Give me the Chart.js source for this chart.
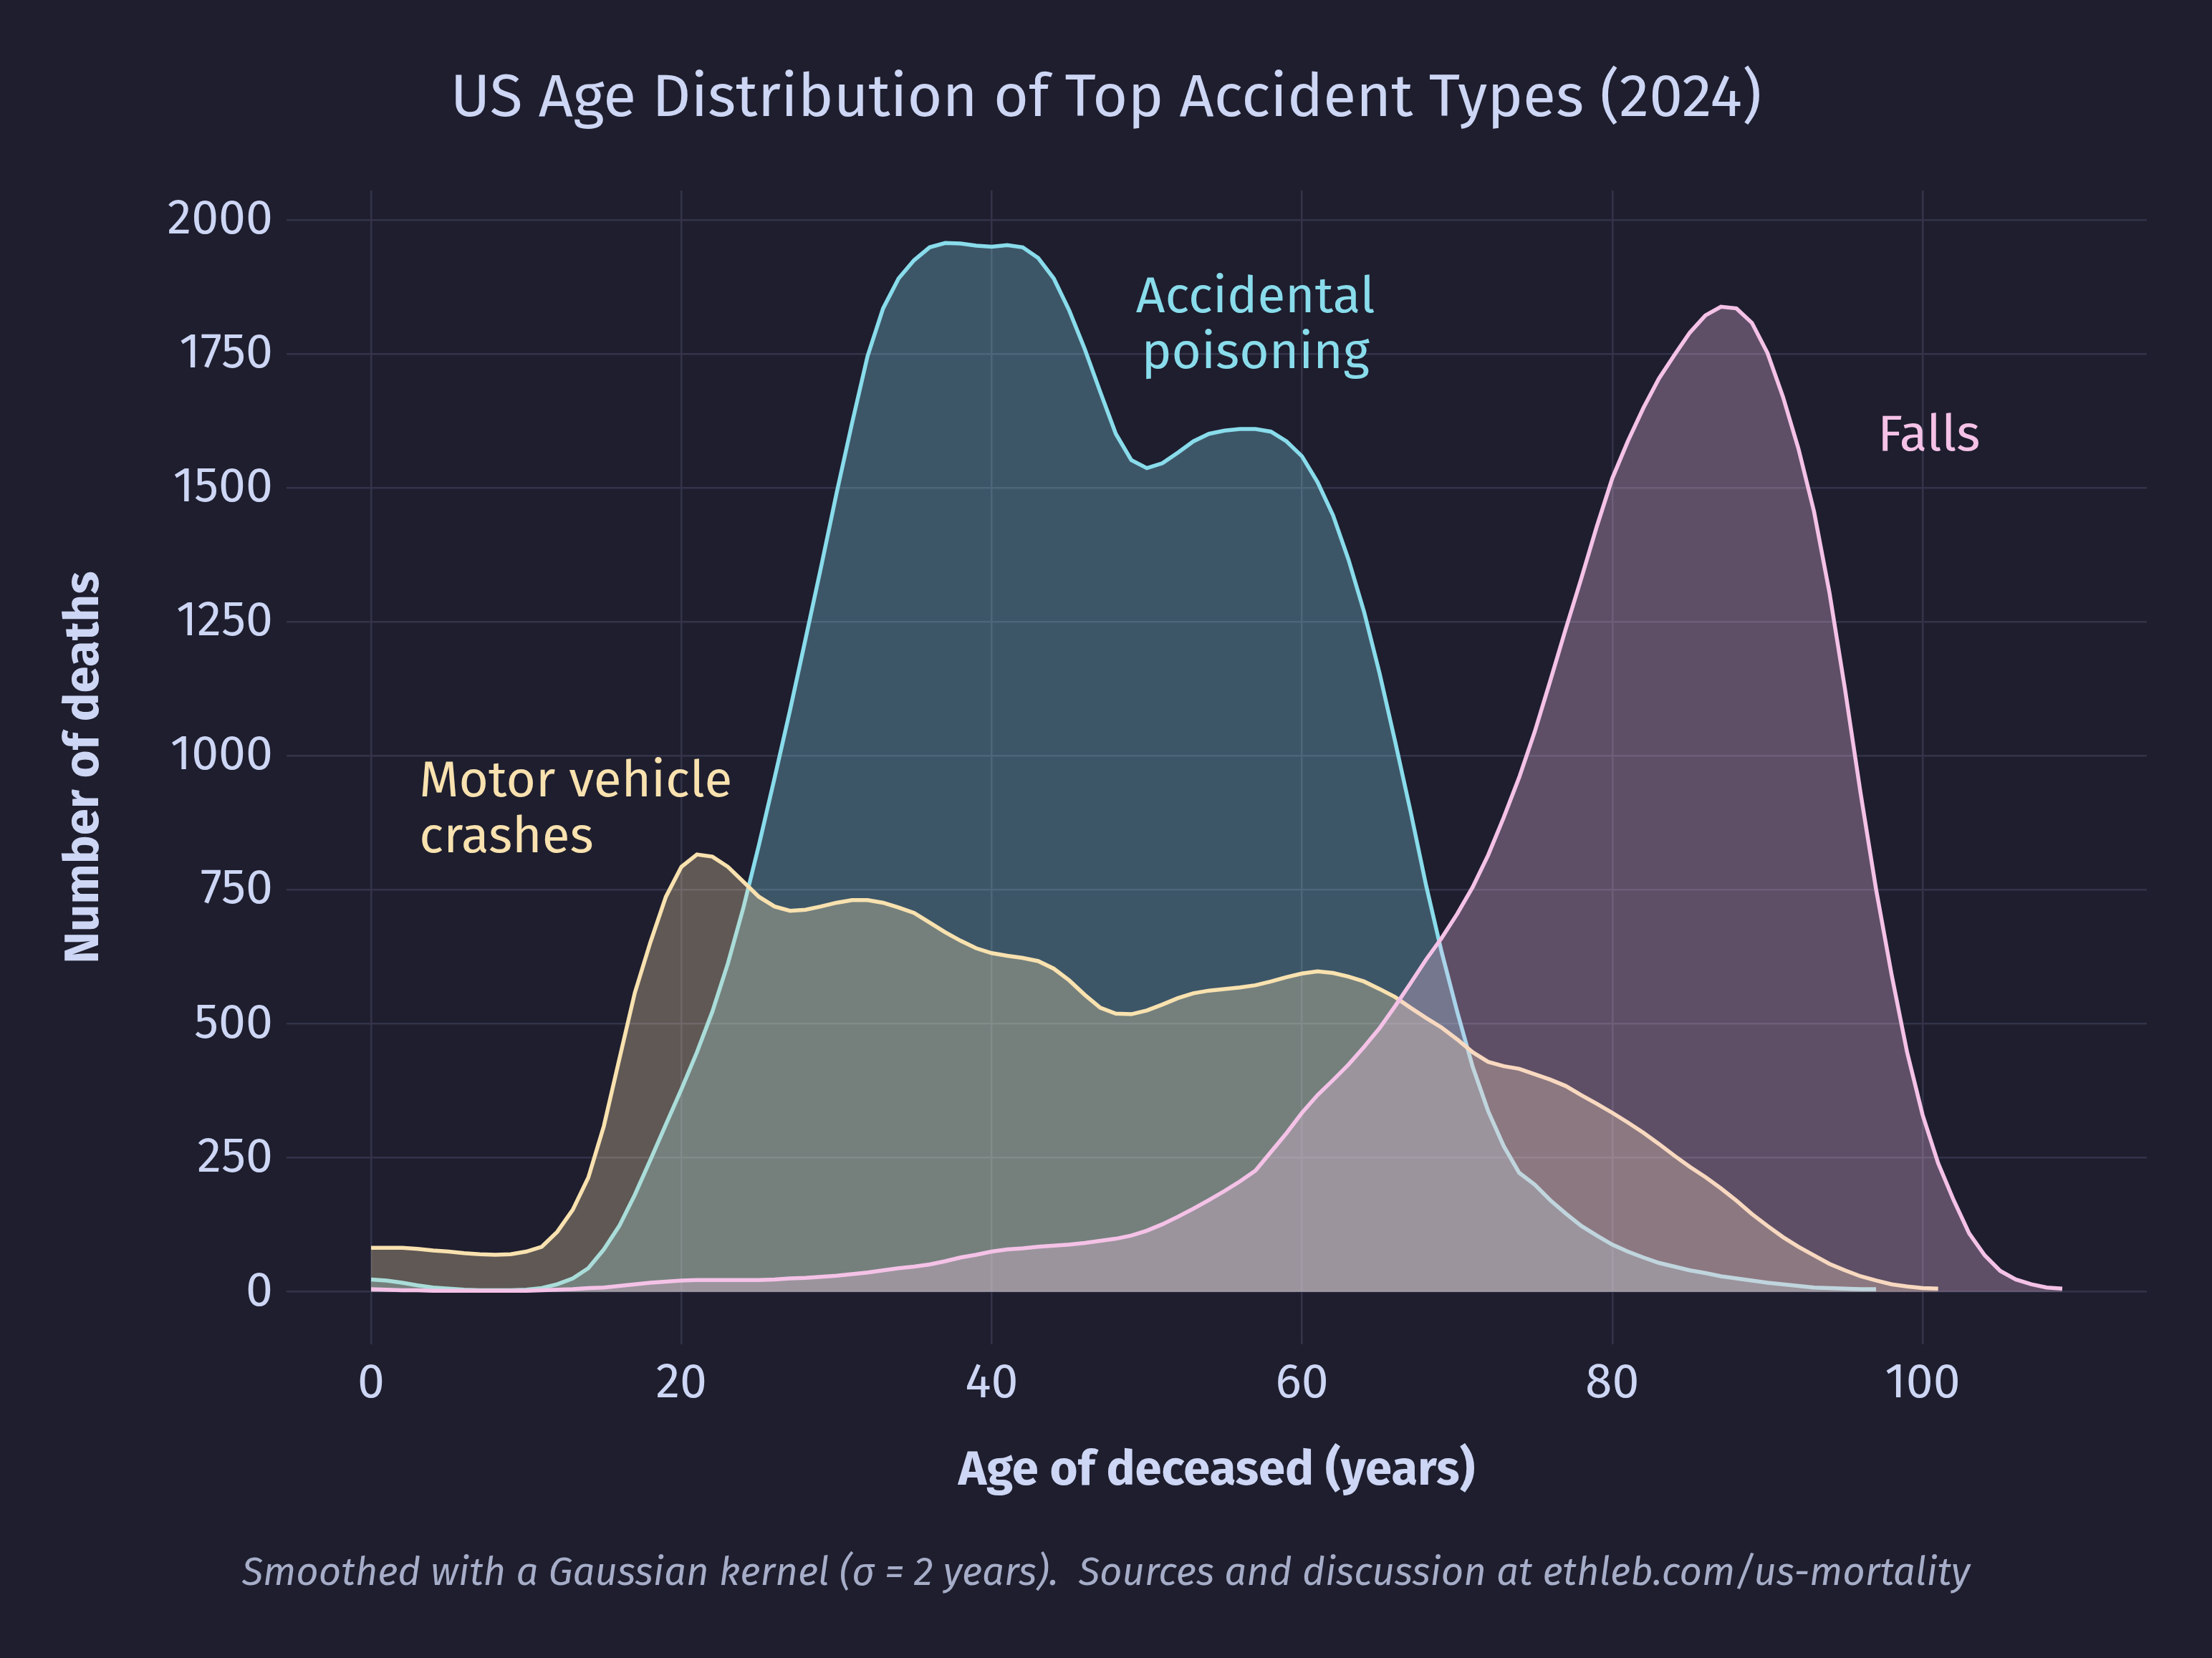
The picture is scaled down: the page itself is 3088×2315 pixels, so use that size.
<!DOCTYPE html>
<html>
<head>
<meta charset="utf-8">
<script src="https://cdn.jsdelivr.net/npm/chart.js@4.4.1/dist/chart.umd.min.js"></script>
<style>
html,body{margin:0;padding:0;background:#1e1e2e;}
#wrap{width:3088px;height:2315px;}
</style>
</head>
<body>
<div id="wrap"><canvas id="c" width="3088" height="2315"></canvas></div>
<script>
// ---------- DATA ----------
const ages = [0,1,2,3,4,5,6,7,8,9,10,11,12,13,14,15,16,17,18,19,20,21,22,23,24,25,26,27,28,29,30,31,32,33,34,35,36,37,38,39,40,41,42,43,44,45,46,47,48,49,50,51,52,53,54,55,56,57,58,59,60,61,62,63,64,65,66,67,68,69,70,71,72,73,74,75,76,77,78,79,80,81,82,83,84,85,86,87,88,89,90,91,92,93,94,95,96,97,98,99,100,101,102,103,104,105,106,107,108,109];

const poisoning = [23,21,17,12,8,6,4,3,3,3,4,7,14,25,44,79,123,181,246,312,378,447,523,613,717,834,958,1085,1218,1352,1490,1621,1746,1835,1891,1925,1949,1957,1956,1952,1950,1953,1949,1929,1891,1831,1759,1679,1601,1552,1537,1546,1566,1587,1601,1607,1610,1610,1605,1587,1559,1511,1449,1366,1269,1154,1027,896,758,634,523,420,337,272,222,200,171,146,123,105,88,75,64,54,47,40,35,29,25,21,17,14,11,8,7,6,5,5];

const motorVehicle = [82,82,82,80,77,75,72,70,69,70,75,84,112,153,213,309,434,558,652,737,793,816,812,793,765,737,719,711,713,719,726,731,731,726,717,707,689,671,655,641,632,627,623,617,603,581,554,530,519,518,525,536,548,557,562,565,568,572,579,587,594,598,595,588,579,565,550,530,511,493,471,447,429,421,416,406,396,384,367,351,334,316,297,276,254,233,214,193,170,145,123,102,84,68,52,40,29,21,14,10,7,6];

const falls = [5,4,3,3,2,2,2,2,2,2,2,3,4,5,7,8,11,14,17,19,21,22,22,22,22,22,23,25,26,28,30,33,36,40,44,47,51,57,64,69,75,79,81,84,86,88,91,95,99,105,114,126,140,155,171,188,206,226,261,296,334,367,395,424,457,492,533,576,620,660,705,755,815,885,960,1045,1140,1237,1331,1428,1518,1587,1649,1704,1748,1790,1822,1838,1835,1808,1752,1670,1573,1456,1304,1124,931,751,592,447,330,240,171,109,68,39,23,14,8,6];

const seriesNames = ["Accidental poisoning", "Motor vehicle crashes", "Falls"];
const xTickValues = [0, 20, 40, 60, 80, 100];
const yTickValues = [0, 250, 500, 750, 1000, 1250, 1500, 1750, 2000];

const titleText = "US Age Distribution of Top Accident Types (2024)";
const xTitleText = "Age of deceased (years)";
const yTitleText = "Number of deaths";
const footnoteText = "Smoothed with a Gaussian kernel (\u03c3 = 2 years).  Sources and discussion at ethleb.com/us-mortality";

// annotation anchors in data units
const annotations = [
  {lines: ["Accidental", "poisoning"], x: 57, y: 1828, align: "center", color: "#89dceb"},
  {lines: ["Motor vehicle", "crashes"], x: 3.1, y: 925, align: "left", color: "#f9e2af"},
  {lines: ["Falls"], x: 97.1, y: 1570, align: "left", color: "#f5c2e7"}
];

// ---------- STYLE ----------
const BG = "#1e1e2e";
const TEXT = "#cdd6f4";
const SUBTEXT = "#a6adc8";
const GRID = "#33344a";
const FAMILY = "'Fira Sans', 'Open Sans', 'Noto Sans', sans-serif";
const C_POIS = "#89dceb", C_MOTOR = "#f9e2af", C_FALLS = "#f5c2e7";

function toXY(vals) { return vals.map((v, i) => ({x: ages[i], y: v})); }
function rgba(hex, a) {
  const n = parseInt(hex.slice(1), 16);
  return `rgba(${(n>>16)&255},${(n>>8)&255},${n&255},${a})`;
}

const bgPlugin = {
  id: "bg",
  beforeDraw(chart) {
    const ctx = chart.ctx;
    ctx.save();
    ctx.fillStyle = BG;
    ctx.fillRect(0, 0, chart.width, chart.height);
    ctx.restore();
  }
};

const textPlugin = {
  id: "texts",
  afterDraw(chart) {
    const ctx = chart.ctx, ca = chart.chartArea;
    const xs = chart.scales.x, ys = chart.scales.y;
    ctx.save();
    ctx.textBaseline = "alphabetic";
    // title
    ctx.fillStyle = TEXT;
    ctx.font = `84px ${FAMILY}`;
    ctx.textAlign = "center";
    ctx.fillText(titleText, chart.width / 2, 162);
    // x title
    ctx.font = `bold 67px ${FAMILY}`;
    ctx.fillText(xTitleText, (ca.left + ca.right) / 2, 2073);
    // y title
    ctx.save();
    ctx.translate(118, (ca.top + ca.bottom) / 2);
    ctx.rotate(-Math.PI / 2);
    ctx.textBaseline = "middle";
    ctx.fillText(yTitleText, 0, 0);
    ctx.restore();
    // footnote
    ctx.fillStyle = SUBTEXT;
    ctx.font = `italic 54.5px ${FAMILY}`;
    ctx.fillText(footnoteText, chart.width / 2, 2213);
    // annotations
    ctx.font = `71px ${FAMILY}`;
    annotations.forEach(a => {
      ctx.fillStyle = a.color;
      ctx.textAlign = a.align;
      const px = xs.getPixelForValue(a.x), py = ys.getPixelForValue(a.y);
      a.lines.forEach((ln, i) => ctx.fillText(ln, px, py + i * 78));
    });
    ctx.restore();
  }
};

function ds(label, vals, color) {
  return {
    label, data: toXY(vals),
    borderColor: color, borderWidth: 5.5,
    backgroundColor: rgba(color, 0.3),
    fill: "origin", pointRadius: 0, tension: 0
  };
}

Chart.defaults.font.family = FAMILY;

new Chart(document.getElementById("c"), {
  type: "line",
  data: {
    datasets: [
      ds(seriesNames[2], falls, C_FALLS),
      ds(seriesNames[1], motorVehicle, C_MOTOR),
      ds(seriesNames[0], poisoning, C_POIS)
    ]
  },
  options: {
    responsive: false,
    animation: false,
    devicePixelRatio: 1,
    layout: {padding: {top: 266, right: 91, left: 0, bottom: 0}},
    plugins: {legend: {display: false}, tooltip: {enabled: false}, title: {display: false}},
    scales: {
      x: {
        type: "linear", min: -5.45, max: 114.45,
        afterBuildTicks(s) { s.ticks = xTickValues.map(v => ({value: v})); },
        afterFit(s) { s.height = 438; },
        grid: {color: GRID, lineWidth: 2.5, drawTicks: false},
        border: {display: false},
        ticks: {color: TEXT, font: {size: 68}, padding: 14, maxRotation: 0, callback: v => String(v)}
      },
      y: {
        type: "linear", min: -98, max: 2055,
        afterBuildTicks(s) { s.ticks = yTickValues.map(v => ({value: v})); },
        afterFit(s) { s.width = 400; },
        grid: {color: GRID, lineWidth: 2.5, drawTicks: false},
        border: {display: false},
        ticks: {color: TEXT, font: {size: 68}, padding: 19, callback: v => String(v)}
      }
    }
  },
  plugins: [bgPlugin, textPlugin]
});
</script>
</body>
</html>
